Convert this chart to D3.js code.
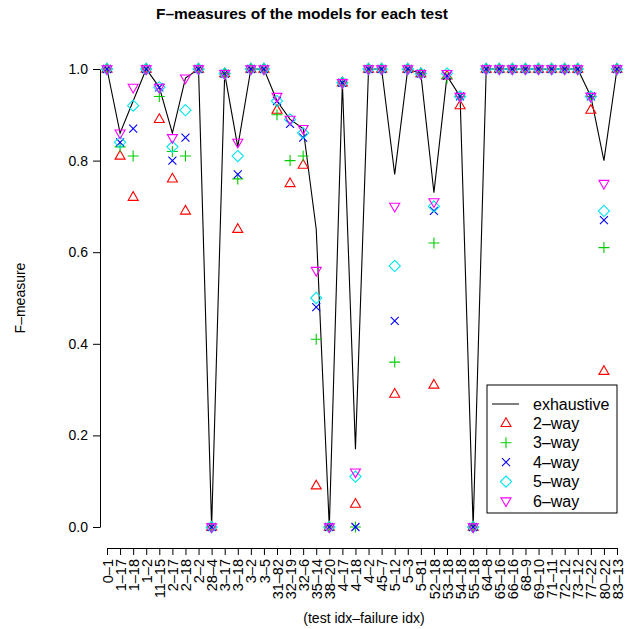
<!DOCTYPE html>
<html>
<head>
<meta charset="utf-8">
<script src="https://cdn.jsdelivr.net/npm/d3@7"></script>
<style>
  body { margin: 0; background: #fff; }
  text { font-family: "Liberation Sans", Arial, sans-serif; fill: #000; }
</style>
</head>
<body>
<svg id="chart" width="626" height="629"></svg>
<script>
// test idx - failure idx
const tests = ["0–1", "1–17", "1–18", "1–2", "11–15", "2–17", "2–18", "2–2", "28–4", "3–17",
  "3–18", "3–2", "3–5", "31–82", "32–19", "32–6", "35–14", "38–20", "4–17", "4–18",
  "4–2", "45–7", "5–12", "5–3", "5–81", "52–18", "53–18", "54–18", "55–18", "64–8",
  "65–16", "66–16", "68–9", "69–10", "71–11", "72–12", "73–12", "77–22", "80–22", "83–13"];

const exhaustive = [1.0, 0.86, 0.93, 1.0, 0.96, 0.86, 0.98, 1.0, 0.0, 0.99,
  0.83, 1.0, 1.0, 0.93, 0.89, 0.87, 0.65, 0.0, 0.97, 0.17,
  1.0, 1.0, 0.77, 1.0, 0.99, 0.73, 0.985, 0.94, 0.0, 1.0,
  1.0, 1.0, 1.0, 1.0, 1.0, 1.0, 1.0, 0.94, 0.80, 1.0];
const way2 = [1.0, 0.81, 0.72, 1.0, 0.89, 0.76, 0.69, 1.0, 0.0, 0.99,
  0.65, 1.0, 1.0, 0.91, 0.75, 0.79, 0.09, 0.0, 0.97, 0.05,
  1.0, 1.0, 0.29, 1.0, 0.99, 0.31, 0.985, 0.92, 0.0, 1.0,
  1.0, 1.0, 1.0, 1.0, 1.0, 1.0, 1.0, 0.91, 0.34, 1.0];
const way3 = [1.0, 0.83, 0.81, 1.0, 0.94, 0.82, 0.81, 1.0, 0.0, 0.99,
  0.76, 1.0, 1.0, 0.90, 0.80, 0.81, 0.41, 0.0, 0.97, 0.0,
  1.0, 1.0, 0.36, 1.0, 0.99, 0.62, 0.98, 0.94, 0.0, 1.0,
  1.0, 1.0, 1.0, 1.0, 1.0, 1.0, 1.0, 0.94, 0.61, 1.0];
const way4 = [1.0, 0.84, 0.87, 1.0, 0.96, 0.80, 0.85, 1.0, 0.0, 0.99,
  0.77, 1.0, 1.0, 0.93, 0.88, 0.85, 0.48, 0.0, 0.97, 0.0,
  1.0, 1.0, 0.45, 1.0, 0.99, 0.69, 0.985, 0.94, 0.0, 1.0,
  1.0, 1.0, 1.0, 1.0, 1.0, 1.0, 1.0, 0.94, 0.67, 1.0];
const way5 = [1.0, 0.84, 0.92, 1.0, 0.96, 0.83, 0.91, 1.0, 0.0, 0.99,
  0.81, 1.0, 1.0, 0.93, 0.89, 0.86, 0.50, 0.0, 0.97, 0.11,
  1.0, 1.0, 0.57, 1.0, 0.99, 0.70, 0.99, 0.94, 0.0, 1.0,
  1.0, 1.0, 1.0, 1.0, 1.0, 1.0, 1.0, 0.94, 0.69, 1.0];
const way6 = [1.0, 0.86, 0.96, 1.0, 0.96, 0.85, 0.98, 1.0, 0.0, 0.99,
  0.84, 1.0, 1.0, 0.94, 0.89, 0.87, 0.56, 0.0, 0.97, 0.12,
  1.0, 1.0, 0.70, 1.0, 0.99, 0.71, 0.99, 0.94, 0.0, 1.0,
  1.0, 1.0, 1.0, 1.0, 1.0, 1.0, 1.0, 0.94, 0.75, 1.0];

const yTicks = [0.0, 0.2, 0.4, 0.6, 0.8, 1.0];
const seriesNames = ["2–way", "3–way", "4–way", "5–way", "6–way"];

// R-like point symbols (pch 2, 3, 4, 5, 6)
const shapes = {
  triUp: "M0,-5.6L5,3.1L-5,3.1Z",
  plus: "M-5.5,0L5.5,0M0,-5.5L0,5.5",
  cross: "M-4,-4L4,4M-4,4L4,-4",
  diamond: "M0,-5.6L5.6,0L0,5.6L-5.6,0Z",
  triDown: "M0,5.6L5,-3.1L-5,-3.1Z"
};

const series = [
  { name: seriesNames[0], values: way2, shape: shapes.triUp, color: "#ff0000" },
  { name: seriesNames[1], values: way3, shape: shapes.plus, color: "#00cd00" },
  { name: seriesNames[2], values: way4, shape: shapes.cross, color: "#0000ff" },
  { name: seriesNames[3], values: way5, shape: shapes.diamond, color: "#00e5ee" },
  { name: seriesNames[4], values: way6, shape: shapes.triDown, color: "#ff00ff" }
];

const svg = d3.select("#chart");

const x = d3.scalePoint()
  .domain(tests)
  .range([107, 617]);

const y = d3.scaleLinear()
  .domain([0, 1])
  .range([527, 69]);

// title
svg.append("text")
  .attr("x", 302)
  .attr("y", 19)
  .attr("text-anchor", "middle")
  .style("font-size", "15.5px")
  .style("font-weight", "bold")
  .text("F–measures of the models for each test");

// y axis
const yAxis = d3.axisLeft(y)
  .tickValues(yTicks)
  .tickFormat(d3.format(".1f"))
  .tickSize(7)
  .tickSizeOuter(0)
  .tickPadding(5);

svg.append("g")
  .attr("class", "y axis")
  .attr("transform", "translate(100,0)")
  .call(yAxis)
  .call(g => g.selectAll("text").style("font-size", "14px").style("font-family", "Liberation Sans, Arial, sans-serif"));

// x axis, labels turned up
const xAxis = d3.axisBottom(x)
  .tickSize(7)
  .tickSizeOuter(0);

svg.append("g")
  .attr("class", "x axis")
  .attr("transform", "translate(0,548)")
  .call(xAxis)
  .call(g => g.selectAll(".tick text")
    .attr("transform", "rotate(-90)")
    .attr("x", -11)
    .attr("y", 0)
    .attr("dy", "0.35em")
    .attr("text-anchor", "end")
    .style("font-size", "14.5px")
    .style("font-family", "Liberation Sans, Arial, sans-serif"));

svg.selectAll(".axis path, .axis line").attr("stroke", "#000");

// axis titles
svg.append("text")
  .attr("transform", "translate(25,298) rotate(-90)")
  .attr("text-anchor", "middle")
  .style("font-size", "14px")
  .text("F–measure");

svg.append("text")
  .attr("x", 364)
  .attr("y", 623)
  .attr("text-anchor", "middle")
  .style("font-size", "14px")
  .text("(test idx–failure idx)");

// exhaustive line
const line = d3.line()
  .x((d, i) => x(tests[i]))
  .y(d => y(d));

svg.append("path")
  .datum(exhaustive)
  .attr("fill", "none")
  .attr("stroke", "#000")
  .attr("stroke-width", 1.1)
  .attr("d", line);

// points for each model
series.forEach(s => {
  svg.append("g")
    .selectAll("path")
    .data(s.values)
    .enter().append("path")
    .attr("transform", (d, i) => `translate(${x(tests[i])},${y(d)})`)
    .attr("d", s.shape)
    .attr("fill", "none")
    .attr("stroke", s.color)
    .attr("stroke-width", 1.1);
});

// legend
const legend = svg.append("g")
  .attr("transform", "translate(487,385)");

legend.append("rect")
  .attr("width", 130)
  .attr("height", 128)
  .attr("fill", "#fff")
  .attr("stroke", "#000");

const rowY = i => 19 + i * 19.4;

legend.append("line")
  .attr("x1", 5).attr("x2", 32)
  .attr("y1", rowY(0)).attr("y2", rowY(0))
  .attr("stroke", "#000");

legend.append("text")
  .attr("x", 46)
  .attr("y", rowY(0))
  .attr("dy", "0.35em")
  .style("font-size", "16px")
  .text("exhaustive");

series.forEach((s, i) => {
  legend.append("path")
    .attr("transform", `translate(19,${rowY(i + 1)})`)
    .attr("d", s.shape)
    .attr("fill", "none")
    .attr("stroke", s.color)
    .attr("stroke-width", 1.1);
  legend.append("text")
    .attr("x", 46)
    .attr("y", rowY(i + 1))
    .attr("dy", "0.35em")
    .style("font-size", "16px")
    .text(s.name);
});
</script>
</body>
</html>
